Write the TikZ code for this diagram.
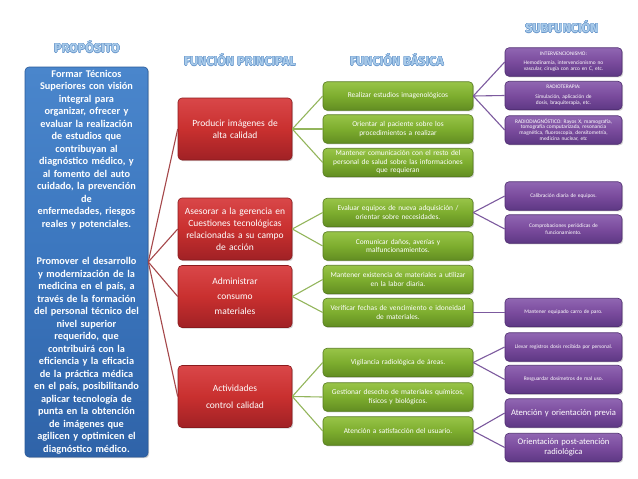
\documentclass[tikz,border=0pt]{standalone}
\usepackage{fontspec}
\setmainfont{Carlito}
\newfontfamily\titlefont{Fira Sans}
\usepackage{contour}
\contourlength{0.3pt}
\usetikzlibrary{shadows}
\definecolor{bluetop}{HTML}{4A86CC}
\definecolor{bluemid}{HTML}{3B76BE}
\definecolor{bluebot}{HTML}{2F63A8}
\definecolor{blueedge}{HTML}{2A5A98}
\definecolor{redtop}{HTML}{D94749}
\definecolor{redmid}{HTML}{C9302F}
\definecolor{redbot}{HTML}{A02125}
\definecolor{rededge}{HTML}{8A1A1D}
\definecolor{greentop}{HTML}{98C448}
\definecolor{greenmid}{HTML}{7DAD2E}
\definecolor{greenbot}{HTML}{628D22}
\definecolor{greenedge}{HTML}{557B1C}
\definecolor{purptop}{HTML}{9066B2}
\definecolor{purpmid}{HTML}{7A4B9D}
\definecolor{purpbot}{HTML}{5E3884}
\definecolor{purpedge}{HTML}{4E2C70}
\definecolor{redline}{HTML}{A5474A}
\definecolor{greenline}{HTML}{93B55C}
\definecolor{purpline}{HTML}{7C5A9E}
\definecolor{titlefill}{HTML}{A9CBEA}
\definecolor{titleedge}{HTML}{6A98CC}
\begin{document}
\begin{tikzpicture}[x=1pt,y=-1pt,
  box/.style={rounded corners=4pt, align=center, text=white, line width=0.6pt,
    drop shadow={opacity=0.35,shadow xshift=1.2pt,shadow yshift=-1.2pt}},
  bluebox/.style={box, draw=blueedge, top color=bluetop, bottom color=bluebot, middle color=bluemid,
    minimum width=123pt, minimum height=390pt, text width=119pt, inner sep=2pt,
    font=\bfseries\fontsize{10.3}{12.5}\selectfont},
  redbox/.style={box, draw=rededge, top color=redtop, bottom color=redbot, middle color=redmid,
    minimum width=114pt, minimum height=62pt, text width=112pt, inner sep=1pt,
    font=\fontsize{9.5}{12}\selectfont},
  greenbox/.style={box, draw=greenedge, top color=greentop, bottom color=greenbot, middle color=greenmid,
    minimum width=150pt, minimum height=28.5pt, text width=149pt, inner sep=0.5pt,
    font=\fontsize{7.4}{8.5}\selectfont},
  purpbox/.style={box, draw=purpedge, top color=purptop, bottom color=purpbot, middle color=purpmid,
    minimum width=117pt, minimum height=28.5pt, text width=116pt, inner sep=0.5pt,
    font=\fontsize{5.4}{6.4}\selectfont},
  ttl/.style={text=titlefill, font=\titlefont\bfseries\fontsize{12.5}{14}\selectfont},
  rline/.style={draw=redline, line width=1.1pt},
  gline/.style={draw=greenline, line width=1.1pt},
  pline/.style={draw=purpline, line width=1.1pt}]
\useasboundingbox (0,0) rectangle (638,479);

% titles
\node[ttl] (t1) at (87,47) {\contour{titleedge}{PROPÓSITO}};
\node[ttl] (t2) at (240,60) {\contour{titleedge}{FUNCIÓN PRINCIPAL}};
\node[ttl] (t3) at (397,60) {\contour{titleedge}{FUNCIÓN BÁSICA}};
\node[ttl] (t4) at (562,27) {\contour{titleedge}{SUBFUNCIÓN}};

% purpose
\node[bluebox] (blue) at (86.5,262) {Formar Técnicos\\Superiores con visión\\integral para\\organizar, ofrecer  y\\evaluar la realización\\de estudios que\\contribuyan al\\diagnóstico médico, y\\al fomento  del auto\\cuidado, la prevención\\de\\enfermedades, riesgos\\reales y potenciales.\\[25pt]Promover el desarrollo\\y modernización de la\\medicina en el país,  a\\través de la formación\\del personal técnico del\\nivel superior\\requerido, que\\contribuirá con la\\eficiencia y la eficacia\\de la práctica médica\\en el país, posibilitando\\aplicar tecnología de\\punta en la obtención\\de imágenes que\\agilicen y optimicen el\\diagnóstico médico.};

% main functions
\node[redbox] (r1) at (235,129) {Producir imágenes de\\alta calidad};
\node[redbox] (r2) at (235,229) {Asesorar a la gerencia en\\Cuestiones tecnológicas\\relacionadas a su campo\\de acción};
\node[redbox, font=\fontsize{9.5}{15}\selectfont] (r3) at (235,296.5) {Administrar\\consumo\\materiales};
\node[redbox, font=\fontsize{9.5}{17}\selectfont] (r4) at (235,396.5) {Actividades\\control calidad};

% basic functions
\node[greenbox] (g1) at (398,96) {Realizar estudios imagenológicos};
\node[greenbox] (g2) at (398,129) {Orientar al paciente sobre los\\procedimientos a realizar};
\node[greenbox] (g3) at (398,162.5) {Mantener comunicación con el resto del\\personal de salud sobre las informaciones\\que requieran};
\node[greenbox] (g4) at (398,212.5) {Evaluar equipos de nueva adquisición /\\orientar sobre necesidades.};
\node[greenbox] (g5) at (398,246) {Comunicar daños, averías y\\malfuncionamientos.};
\node[greenbox] (g6) at (398,279.5) {Mantener existencia de materiales a utilizar\\en la labor diaria.};
\node[greenbox] (g7) at (398,312.5) {Verificar fechas de vencimiento e idoneidad\\de materiales.};
\node[greenbox] (g8) at (398,362.5) {Vigilancia radiológica de áreas.};
\node[greenbox] (g9) at (398,397) {Gestionar desecho de materiales químicos,\\físicos y biológicos.};
\node[greenbox] (g10) at (398,431) {Atención a satisfacción del usuario.};

% sub functions
\node[purpbox] (p1) at (563.5,62) {INTERVENCIONISMO:\\[2pt]Hemodinamia, intervencionismo no\\vascular, cirugía con arco en C, etc.};
\node[purpbox] (p2) at (563.5,95.5) {RADIOTERAPIA:\\[3pt]Simulación, aplicación de\\dosis, braquiterapia,  etc.};
\node[purpbox, font=\fontsize{5.4}{5.9}\selectfont] (p3) at (563.5,130) {RADIODIAGNÓSTICO: Rayos X, mamografía,\\tomografía computarizada, resonancia\\magnética, fluoroscopia, densitometría,\\medicina nuclear, etc};
\node[purpbox] (p4) at (563.5,196) {Calibración diaria de equipos.};
\node[purpbox] (p5) at (563.5,229) {Comprobaciones periódicas de\\funcionamiento.};
\node[purpbox] (p6) at (563.5,312.5) {Mantener equipado carro de paro.};
\node[purpbox] (p7) at (563.5,347) {Llevar registros dosis recibida por personal.};
\node[purpbox] (p8) at (563.5,379.5) {Resguardar dosímetros de mal uso.};
\node[purpbox, font=\fontsize{8.6}{10}\selectfont] (p9) at (563.5,413) {Atención y orientación previa};
\node[purpbox, font=\fontsize{8.6}{10.5}\selectfont] (p10) at (563.5,447.5) {Orientación post-atención\\radiológica};

% connectors
\foreach \r in {r1,r2,r3,r4} \draw[rline] (blue.east) -- (\r.west);
\foreach \g in {g1,g2,g3} \draw[gline] (r1.east) -- (\g.west);
\foreach \g in {g4,g5} \draw[gline] (r2.east) -- (\g.west);
\foreach \g in {g6,g7} \draw[gline] (r3.east) -- (\g.west);
\foreach \g in {g8,g9,g10} \draw[gline] (r4.east) -- (\g.west);
\foreach \p in {p1,p2,p3} \draw[pline] (g1.east) -- (\p.west);
\foreach \p in {p4,p5} \draw[pline] (g4.east) -- (\p.west);
\draw[pline] (g7.east) -- (p6.west);
\foreach \p in {p7,p8} \draw[pline] (g8.east) -- (\p.west);
\foreach \p in {p9,p10} \draw[pline] (g10.east) -- (\p.west);
\end{tikzpicture}
\end{document}
